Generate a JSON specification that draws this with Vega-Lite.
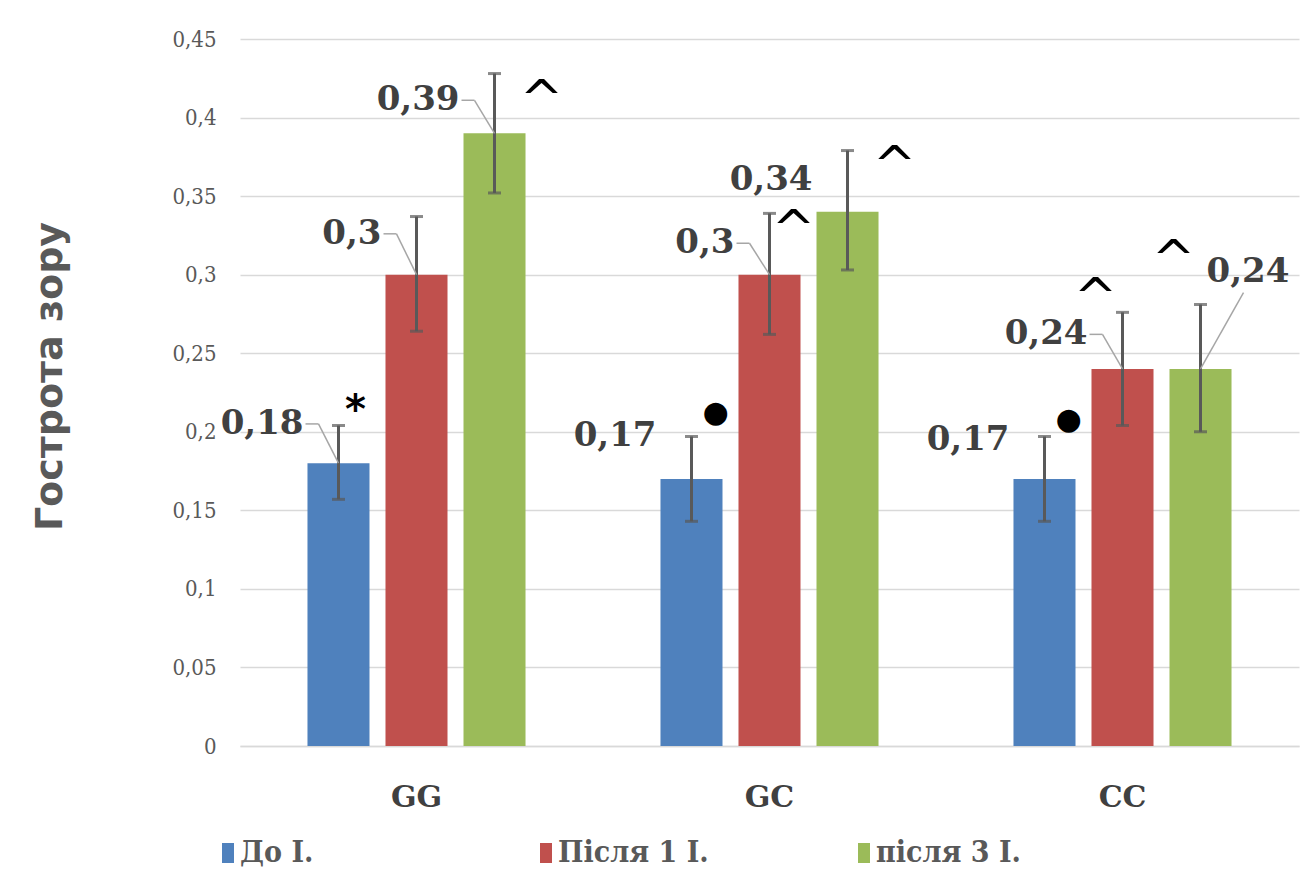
{
  "$schema": "https://vega.github.io/schema/vega-lite/v6.json",
  "width": 1059,
  "height": 707,
  "autosize": "none",
  "padding": {"left": 240, "top": 39, "right": 5, "bottom": 133},
  "background": "white",
  "config": {
    "locale": {"number": {"decimal": ",", "thousands": " ", "grouping": [3], "currency": ["", ""]}},
    "view": {"stroke": null}
  },
  "datasets": {
    "bars": [
      {"group": "GG", "series": "До І.", "value": 0.18, "lo": 0.157, "hi": 0.204, "labelY": 0.205},
      {"group": "GG", "series": "Після 1 І.", "value": 0.30, "lo": 0.264, "hi": 0.337, "labelY": 0.326},
      {"group": "GG", "series": "після 3 І.", "value": 0.39, "lo": 0.352, "hi": 0.428, "labelY": 0.411},
      {"group": "GC", "series": "До І.", "value": 0.17, "lo": 0.143, "hi": 0.197, "labelY": 0.197},
      {"group": "GC", "series": "Після 1 І.", "value": 0.30, "lo": 0.262, "hi": 0.339, "labelY": 0.320},
      {"group": "GC", "series": "після 3 І.", "value": 0.34, "lo": 0.303, "hi": 0.379, "labelY": 0.360},
      {"group": "CC", "series": "До І.", "value": 0.17, "lo": 0.143, "hi": 0.197, "labelY": 0.195},
      {"group": "CC", "series": "Після 1 І.", "value": 0.24, "lo": 0.204, "hi": 0.276, "labelY": 0.262},
      {"group": "CC", "series": "після 3 І.", "value": 0.24, "lo": 0.200, "hi": 0.281, "labelY": 0.302}
    ],
    "notes": [
      {"group": "GG", "series": "До І.", "sign": "*", "at": 0.218},
      {"group": "GG", "series": "після 3 І.", "sign": "^", "at": 0.421},
      {"group": "GC", "series": "Після 1 І.", "sign": "^", "at": 0.338},
      {"group": "GC", "series": "після 3 І.", "sign": "^", "at": 0.379},
      {"group": "CC", "series": "Після 1 І.", "sign": "^", "at": 0.295},
      {"group": "CC", "series": "після 3 І.", "sign": "^", "at": 0.319},
      {"group": "GC", "series": "До І.", "sign": "●", "at": 0.212},
      {"group": "CC", "series": "До І.", "sign": "●", "at": 0.2075}
    ]
  },
  "layer": [
    {
      "data": {"name": "bars"},
      "mark": {"type": "bar"},
      "encoding": {
        "x": {
          "field": "group", "type": "nominal", "sort": ["GG", "GC", "CC"],
          "scale": {"paddingInner": 0, "paddingOuter": 0},
          "axis": {
            "title": null, "labelAngle": 0, "ticks": false, "domain": true,
            "domainColor": "#d9d9d9", "domainWidth": 1.5,
            "labelFont": "DejaVu Serif", "labelFontWeight": "bold", "labelFontSize": 30,
            "labelColor": "#404040", "labelPadding": 36
          }
        },
        "xOffset": {
          "field": "series", "type": "nominal", "sort": ["До І.", "Після 1 І.", "після 3 І."],
          "scale": {"paddingInner": 0.205, "paddingOuter": 0.865}
        },
        "y": {
          "field": "value", "type": "quantitative",
          "scale": {"domain": [0, 0.45], "nice": false},
          "axis": {
            "title": "Гострота зору", "titleFont": "DejaVu Sans", "titleFontWeight": "bold",
            "titleFontSize": 38, "titleColor": "#595959", "titlePadding": 102, "titleY": 337,
            "values": [0, 0.05, 0.1, 0.15, 0.2, 0.25, 0.3, 0.35, 0.4, 0.45],
            "format": ".2~f", "ticks": false, "domain": false,
            "grid": true, "gridColor": "#d9d9d9", "gridWidth": 1.5,
            "labelFont": "DejaVu Serif Condensed", "labelFontSize": 22, "labelColor": "#595959",
            "labelPadding": 24
          }
        },
        "color": {
          "field": "series", "type": "nominal",
          "scale": {"domain": ["До І.", "Після 1 І.", "після 3 І."], "range": ["#4f81bd", "#c0504d", "#9bbb59"]},
          "legend": {
            "title": null, "orient": "none", "direction": "horizontal",
            "legendX": -27, "legendY": 799, "gridAlign": "all",
            "symbolType": "M-0.6,-1H0.6V1H-0.6Z", "symbolSize": 400, "symbolStrokeWidth": 0,
            "labelFont": "DejaVu Serif Condensed", "labelFontWeight": "bold", "labelFontSize": 30,
            "labelColor": "#595959", "labelOffset": -3, "columnPadding": 140, "labelLimit": 400
          }
        }
      }
    },
    {
      "data": {"name": "bars"},
      "mark": {"type": "rule", "color": "#595959", "strokeWidth": 3},
      "encoding": {
        "x": {"field": "group", "type": "nominal", "sort": ["GG", "GC", "CC"]},
        "xOffset": {"field": "series", "type": "nominal", "sort": ["До І.", "Після 1 І.", "після 3 І."]},
        "y": {"field": "lo", "type": "quantitative"},
        "y2": {"field": "hi"}
      }
    },
    {
      "data": {"name": "bars"},
      "mark": {"type": "tick", "color": "#595959", "size": 13, "thickness": 3, "orient": "horizontal"},
      "encoding": {
        "x": {"field": "group", "type": "nominal", "sort": ["GG", "GC", "CC"]},
        "xOffset": {"field": "series", "type": "nominal", "sort": ["До І.", "Після 1 І.", "після 3 І."]},
        "y": {"field": "hi", "type": "quantitative"}
      }
    },
    {
      "data": {"name": "bars"},
      "mark": {"type": "tick", "color": "#595959", "size": 13, "thickness": 3, "orient": "horizontal"},
      "encoding": {
        "x": {"field": "group", "type": "nominal", "sort": ["GG", "GC", "CC"]},
        "xOffset": {"field": "series", "type": "nominal", "sort": ["До І.", "Після 1 І.", "після 3 І."]},
        "y": {"field": "lo", "type": "quantitative"}
      }
    },
    {
      "data": {"name": "bars"},
      "transform": [{"filter": "datum.group == 'GG' && datum.series == 'До І.'"}],
      "mark": {"type": "rule", "color": "#a6a6a6", "strokeWidth": 1.5, "x2Offset": -98},
      "encoding": {
        "x": {"field": "group", "type": "nominal", "sort": ["GG", "GC", "CC"]},
        "xOffset": {"field": "series", "type": "nominal", "sort": ["До І.", "Після 1 І.", "після 3 І."]},
        "y": {"field": "value", "type": "quantitative"},
        "x2": {"field": "group"},
        "y2": {"field": "labelY"}
      }
    },
    {
      "data": {"name": "bars"},
      "transform": [{"filter": "datum.group == 'GG' && datum.series == 'До І.'"}],
      "mark": {"type": "rule", "color": "#a6a6a6", "strokeWidth": 1.5, "xOffset": -111, "x2Offset": -98},
      "encoding": {
        "x": {"field": "group", "type": "nominal", "sort": ["GG", "GC", "CC"]},
        "y": {"field": "labelY", "type": "quantitative"},
        "x2": {"field": "group"}
      }
    },
    {
      "data": {"name": "bars"},
      "transform": [{"filter": "datum.series == 'Після 1 І.'"}],
      "mark": {"type": "rule", "color": "#a6a6a6", "strokeWidth": 1.5, "x2Offset": -20},
      "encoding": {
        "x": {"field": "group", "type": "nominal", "sort": ["GG", "GC", "CC"]},
        "xOffset": {"field": "series", "type": "nominal", "sort": ["До І.", "Після 1 І.", "після 3 І."]},
        "y": {"field": "value", "type": "quantitative"},
        "x2": {"field": "group"},
        "y2": {"field": "labelY"}
      }
    },
    {
      "data": {"name": "bars"},
      "transform": [{"filter": "datum.series == 'Після 1 І.'"}],
      "mark": {"type": "rule", "color": "#a6a6a6", "strokeWidth": 1.5, "xOffset": -33, "x2Offset": -20},
      "encoding": {
        "x": {"field": "group", "type": "nominal", "sort": ["GG", "GC", "CC"]},
        "y": {"field": "labelY", "type": "quantitative"},
        "x2": {"field": "group"}
      }
    },
    {
      "data": {"name": "bars"},
      "transform": [{"filter": "datum.group == 'GG' && datum.series == 'після 3 І.'"}],
      "mark": {"type": "rule", "color": "#a6a6a6", "strokeWidth": 1.5, "x2Offset": 58},
      "encoding": {
        "x": {"field": "group", "type": "nominal", "sort": ["GG", "GC", "CC"]},
        "xOffset": {"field": "series", "type": "nominal", "sort": ["До І.", "Після 1 І.", "після 3 І."]},
        "y": {"field": "value", "type": "quantitative"},
        "x2": {"field": "group"},
        "y2": {"field": "labelY"}
      }
    },
    {
      "data": {"name": "bars"},
      "transform": [{"filter": "datum.group == 'GG' && datum.series == 'після 3 І.'"}],
      "mark": {"type": "rule", "color": "#a6a6a6", "strokeWidth": 1.5, "xOffset": 45, "x2Offset": 58},
      "encoding": {
        "x": {"field": "group", "type": "nominal", "sort": ["GG", "GC", "CC"]},
        "y": {"field": "labelY", "type": "quantitative"},
        "x2": {"field": "group"}
      }
    },
    {
      "data": {"name": "bars"},
      "transform": [{"filter": "datum.group == 'CC' && datum.series == 'після 3 І.'"}],
      "mark": {"type": "rule", "color": "#a6a6a6", "strokeWidth": 1.5, "x2Offset": 121, "y2Offset": 21},
      "encoding": {
        "x": {"field": "group", "type": "nominal", "sort": ["GG", "GC", "CC"]},
        "xOffset": {"field": "series", "type": "nominal", "sort": ["До І.", "Після 1 І.", "після 3 І."]},
        "y": {"field": "value", "type": "quantitative"},
        "x2": {"field": "group"},
        "y2": {"field": "labelY"}
      }
    },
    {
      "data": {"name": "bars"},
      "transform": [{"filter": "!(datum.group == 'CC' && datum.series == 'після 3 І.')"}],
      "mark": {"type": "text", "align": "right", "baseline": "middle", "dx": -35, "font": "DejaVu Serif", "fontWeight": "bold", "fontSize": 34, "color": "#404040"},
      "encoding": {
        "x": {"field": "group", "type": "nominal", "sort": ["GG", "GC", "CC"]},
        "xOffset": {"field": "series", "type": "nominal", "sort": ["До І.", "Після 1 І.", "після 3 І."]},
        "y": {"field": "labelY", "type": "quantitative"},
        "text": {"field": "value", "type": "quantitative", "format": ".2~f"}
      }
    },
    {
      "data": {"name": "bars"},
      "transform": [{"filter": "datum.group == 'CC' && datum.series == 'після 3 І.'"}],
      "mark": {"type": "text", "align": "left", "baseline": "middle", "dx": 6, "font": "DejaVu Serif", "fontWeight": "bold", "fontSize": 34, "color": "#404040"},
      "encoding": {
        "x": {"field": "group", "type": "nominal", "sort": ["GG", "GC", "CC"]},
        "xOffset": {"field": "series", "type": "nominal", "sort": ["До І.", "Після 1 І.", "після 3 І."]},
        "y": {"field": "labelY", "type": "quantitative"},
        "text": {"field": "value", "type": "quantitative", "format": ".2~f"}
      }
    },
    {
      "data": {"name": "notes"},
      "transform": [{"filter": "datum.sign == '*'"}],
      "mark": {"type": "text", "align": "center", "baseline": "middle", "dx": 17, "dy": 8, "font": "DejaVu Sans", "fontWeight": "bold", "fontSize": 40, "color": "black"},
      "encoding": {
        "x": {"field": "group", "type": "nominal", "sort": ["GG", "GC", "CC"]},
        "xOffset": {"field": "series", "type": "nominal", "sort": ["До І.", "Після 1 І.", "після 3 І."]},
        "y": {"field": "at", "type": "quantitative"},
        "text": {"field": "sign"}
      }
    },
    {
      "data": {"name": "notes"},
      "transform": [{"filter": "datum.sign == '●'"}],
      "mark": {"type": "text", "align": "center", "baseline": "middle", "dx": 24, "font": "DejaVu Sans", "fontSize": 30, "color": "black"},
      "encoding": {
        "x": {"field": "group", "type": "nominal", "sort": ["GG", "GC", "CC"]},
        "xOffset": {"field": "series", "type": "nominal", "sort": ["До І.", "Після 1 І.", "після 3 І."]},
        "y": {"field": "at", "type": "quantitative"},
        "text": {"field": "sign"}
      }
    },
    {
      "data": {"name": "notes"},
      "transform": [{"filter": "datum.sign == '^' && datum.group == 'GC' && datum.series == 'Після 1 І.'"}],
      "mark": {"type": "text", "align": "center", "baseline": "middle", "dx": 24, "dy": 16, "font": "DejaVu Sans", "fontSize": 52, "color": "black"},
      "encoding": {
        "x": {"field": "group", "type": "nominal", "sort": ["GG", "GC", "CC"]},
        "xOffset": {"field": "series", "type": "nominal", "sort": ["До І.", "Після 1 І.", "після 3 І."]},
        "y": {"field": "at", "type": "quantitative"},
        "text": {"field": "sign"}
      }
    },
    {
      "data": {"name": "notes"},
      "transform": [{"filter": "datum.sign == '^' && datum.group != 'CC' && datum.series == 'після 3 І.'"}],
      "mark": {"type": "text", "align": "center", "baseline": "middle", "dx": 47, "dy": 16, "font": "DejaVu Sans", "fontSize": 52, "color": "black"},
      "encoding": {
        "x": {"field": "group", "type": "nominal", "sort": ["GG", "GC", "CC"]},
        "xOffset": {"field": "series", "type": "nominal", "sort": ["До І.", "Після 1 І.", "після 3 І."]},
        "y": {"field": "at", "type": "quantitative"},
        "text": {"field": "sign"}
      }
    },
    {
      "data": {"name": "notes"},
      "transform": [{"filter": "datum.sign == '^' && datum.group == 'CC'"}],
      "mark": {"type": "text", "align": "center", "baseline": "middle", "dx": -27, "dy": 16, "font": "DejaVu Sans", "fontSize": 52, "color": "black"},
      "encoding": {
        "x": {"field": "group", "type": "nominal", "sort": ["GG", "GC", "CC"]},
        "xOffset": {"field": "series", "type": "nominal", "sort": ["До І.", "Після 1 І.", "після 3 І."]},
        "y": {"field": "at", "type": "quantitative"},
        "text": {"field": "sign"}
      }
    }
  ]
}
